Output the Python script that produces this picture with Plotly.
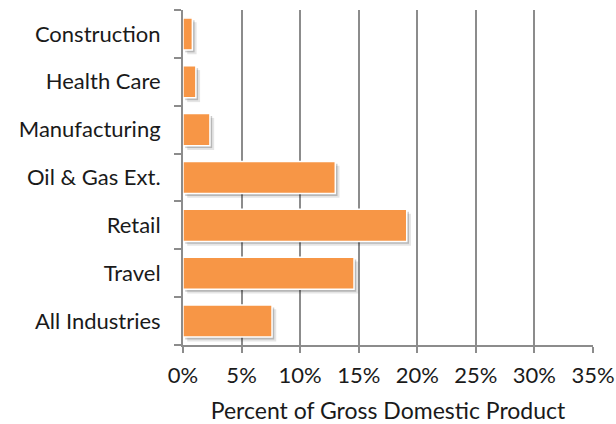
import plotly.graph_objects as go

# Share of GDP by industry (bottom-to-top order on the category axis)
industries = ["All Industries", "Travel", "Retail", "Oil & Gas Ext.",
              "Manufacturing", "Health Care", "Construction"]
pct_gdp = [7.6, 14.6, 19.1, 13.0, 2.3, 1.1, 0.8]

x_ticks = [0, 5, 10, 15, 20, 25, 30, 35]
x_tick_text = ["0%", "5%", "10%", "15%", "20%", "25%", "30%", "35%"]

BAR = "#F79646"
GRID = "#8c8c8c"
FONT = "Lato, 'Open Sans', sans-serif"

X_RANGE = [0, 35]
Y_RANGE = [-0.5, 6.5]

fig = go.Figure()

# Soft drop shadow: two offset copies of the bars on hidden overlay axes
shadow_layers = [
    ("x", "y", "rgba(0,0,0,0.10)"),
    ("x2", "y2", "rgba(0,0,0,0.20)"),
]
for xa, ya, col in shadow_layers:
    fig.add_trace(go.Bar(
        x=pct_gdp, y=industries, orientation="h",
        xaxis=xa, yaxis=ya,
        marker=dict(color=col, line=dict(width=0)),
        hoverinfo="skip", showlegend=False,
    ))

fig.add_trace(go.Bar(
    x=pct_gdp, y=industries, orientation="h",
    xaxis="x3", yaxis="y3",
    marker=dict(color=BAR, line=dict(color="white", width=1.5)),
    showlegend=False,
))

hidden = dict(showgrid=False, zeroline=False, showticklabels=False,
              ticks="", showline=False, automargin=False)


def shadow_axes(dx, dy):
    xa = dict(range=[X_RANGE[0] - dx, X_RANGE[1] - dx], **hidden)
    ya = dict(range=[Y_RANGE[0] + dy, Y_RANGE[1] + dy], type="category",
              categoryorder="array", categoryarray=industries, **hidden)
    return xa, ya


x1, y1 = shadow_axes(0.36, 0.09)
x2, y2 = shadow_axes(0.19, 0.05)
x2.update(overlaying="x", anchor="y2")
y2.update(overlaying="y", anchor="x2")

fig.update_layout(
    width=616, height=424,
    margin=dict(l=183, r=23, t=10, b=79),
    paper_bgcolor="white", plot_bgcolor="white",
    bargap=0.33,
    font=dict(family=FONT, size=22, color="#1a1a1a"),
    xaxis=x1, yaxis=y1, xaxis2=x2, yaxis2=y2,
    xaxis3=dict(
        overlaying="x", anchor="y3", automargin=False,
        range=X_RANGE, tickvals=x_ticks, ticktext=x_tick_text,
        showgrid=True, gridcolor=GRID, gridwidth=2,
        zeroline=False, showline=True, linecolor=GRID, linewidth=2,
        ticks="outside", ticklen=6, tickwidth=2, tickcolor=GRID,
        tickfont=dict(size=22), ticklabelstandoff=4,
        title=dict(text="Percent of Gross Domestic Product",
                   font=dict(size=23), standoff=16),
    ),
    yaxis3=dict(
        overlaying="y", anchor="x3", automargin=False,
        type="category", categoryorder="array", categoryarray=industries,
        range=Y_RANGE,
        showgrid=False, zeroline=False,
        showline=True, linecolor=GRID, linewidth=2,
        ticks="outside", tickson="boundaries", ticklen=7, tickwidth=2,
        tickcolor=GRID, tickfont=dict(size=22), ticklabelstandoff=16,
    ),
)

fig.write_html("out.html")
